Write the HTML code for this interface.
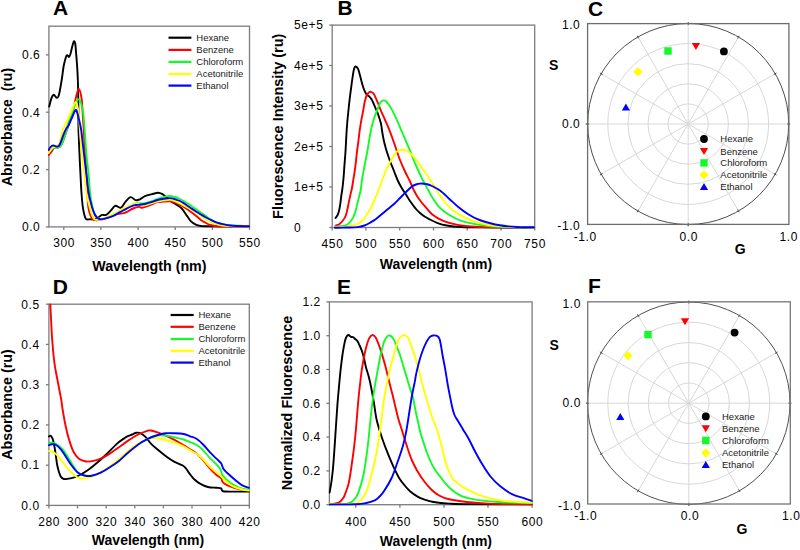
<!DOCTYPE html>
<html><head><meta charset="utf-8"><title>Figure</title>
<style>
html,body{margin:0;padding:0;background:#fff;}
body{width:800px;height:550px;overflow:hidden;}
svg{display:block;font-family:"Liberation Sans", sans-serif;}
</style></head>
<body>
<svg width="800" height="550" viewBox="0 0 800 550">
<defs>
<clipPath id="cA"><rect x="48" y="25" width="202" height="203"/></clipPath>
<clipPath id="cD"><rect x="48" y="303" width="202" height="203"/></clipPath>
<clipPath id="cE"><rect x="328.5" y="301" width="204" height="204.5"/></clipPath>
</defs>
<rect x="48.9" y="26.2" width="200.6" height="200.7" fill="none" stroke="#7c7c7c" stroke-width="1.30"/>
<line x1="63.8" y1="226.9" x2="63.8" y2="229.9" stroke="#7c7c7c" stroke-width="1.30"/>
<text x="64.06" y="247.20" font-size="12.00" text-anchor="middle" letter-spacing="0.60" fill="#000">300</text>
<line x1="100.9" y1="226.9" x2="100.9" y2="229.9" stroke="#7c7c7c" stroke-width="1.30"/>
<text x="101.21" y="247.20" font-size="12.00" text-anchor="middle" letter-spacing="0.60" fill="#000">350</text>
<line x1="138.1" y1="226.9" x2="138.1" y2="229.9" stroke="#7c7c7c" stroke-width="1.30"/>
<text x="138.36" y="247.20" font-size="12.00" text-anchor="middle" letter-spacing="0.60" fill="#000">400</text>
<line x1="175.2" y1="226.9" x2="175.2" y2="229.9" stroke="#7c7c7c" stroke-width="1.30"/>
<text x="175.50" y="247.20" font-size="12.00" text-anchor="middle" letter-spacing="0.60" fill="#000">450</text>
<line x1="212.4" y1="226.9" x2="212.4" y2="229.9" stroke="#7c7c7c" stroke-width="1.30"/>
<text x="212.65" y="247.20" font-size="12.00" text-anchor="middle" letter-spacing="0.60" fill="#000">500</text>
<line x1="249.5" y1="226.9" x2="249.5" y2="229.9" stroke="#7c7c7c" stroke-width="1.30"/>
<text x="249.80" y="247.20" font-size="12.00" text-anchor="middle" letter-spacing="0.60" fill="#000">550</text>
<line x1="45.9" y1="226.9" x2="48.9" y2="226.9" stroke="#7c7c7c" stroke-width="1.30"/>
<text x="40.40" y="231.20" font-size="12.00" text-anchor="end" letter-spacing="0.60" fill="#000">0.0</text>
<line x1="45.9" y1="169.6" x2="48.9" y2="169.6" stroke="#7c7c7c" stroke-width="1.30"/>
<text x="40.40" y="173.86" font-size="12.00" text-anchor="end" letter-spacing="0.60" fill="#000">0.2</text>
<line x1="45.9" y1="112.2" x2="48.9" y2="112.2" stroke="#7c7c7c" stroke-width="1.30"/>
<text x="40.40" y="116.51" font-size="12.00" text-anchor="end" letter-spacing="0.60" fill="#000">0.4</text>
<line x1="45.9" y1="54.9" x2="48.9" y2="54.9" stroke="#7c7c7c" stroke-width="1.30"/>
<text x="40.40" y="59.17" font-size="12.00" text-anchor="end" letter-spacing="0.60" fill="#000">0.6</text>
<text x="53.00" y="15.40" font-size="21.00" text-anchor="start" font-weight="bold" fill="#000">A</text>
<text x="149.40" y="271.00" font-size="14.25" text-anchor="middle" font-weight="bold" fill="#000">Wavelength (nm)</text>
<text x="11.90" y="127.00" font-size="14.10" text-anchor="middle" font-weight="bold" transform="rotate(-90 11.9 127.0)" fill="#000">Abrsorbance&#160;&#160;(ru)</text>
<g clip-path="url(#cA)">
<path d="M49.2 106.5 C49.6 105.0 50.8 99.8 51.6 97.8 C52.4 95.8 52.9 94.7 53.8 94.7 C54.6 94.7 55.9 97.7 56.7 97.8 C57.6 97.9 58.1 98.0 58.9 95.1 C59.7 92.2 60.8 85.3 61.6 80.5 C62.4 75.7 63.0 69.9 63.6 66.5 C64.2 63.1 64.6 61.8 65.1 60.0 C65.6 58.2 66.1 56.5 66.5 55.8 C66.9 55.0 67.3 55.3 67.7 55.5 C68.1 55.7 68.7 57.2 69.1 57.0 C69.5 56.8 69.9 55.6 70.3 54.5 C70.7 53.4 70.9 52.1 71.3 50.5 C71.7 48.9 72.2 46.3 72.7 44.7 C73.2 43.1 73.6 41.2 74.0 41.1 C74.4 41.0 75.0 42.2 75.3 44.0 C75.6 45.8 75.8 49.2 76.0 52.0 C76.2 54.8 76.5 57.1 76.7 60.5 C77.0 63.9 77.3 68.3 77.5 72.4 C77.7 76.5 77.9 80.4 78.0 85.0 C78.1 89.6 78.2 95.0 78.3 100.0 C78.4 105.0 78.4 110.0 78.4 115.0 C78.4 120.0 78.3 124.2 78.5 130.0 C78.7 135.8 79.0 142.5 79.3 150.0 C79.6 157.5 80.1 167.8 80.5 175.0 C80.9 182.2 81.1 187.9 81.5 193.2 C81.9 198.5 82.3 203.2 82.8 206.8 C83.3 210.4 83.8 212.4 84.3 214.5 C84.8 216.6 85.0 218.3 86.0 219.1 C87.0 219.9 88.8 219.3 90.5 219.3 C92.2 219.3 94.9 219.5 96.4 219.0 C97.9 218.5 98.6 217.2 99.6 216.5 C100.5 215.8 101.0 215.2 102.1 214.9 C103.2 214.6 104.8 215.5 106.2 214.9 C107.6 214.3 108.8 212.7 110.3 211.2 C111.8 209.7 113.7 206.5 115.2 205.9 C116.7 205.3 118.2 207.3 119.3 207.5 C120.4 207.7 120.6 208.1 121.7 207.1 C122.8 206.1 124.3 203.1 125.8 201.4 C127.3 199.7 129.1 197.3 130.7 197.1 C132.3 196.9 134.0 199.7 135.6 200.1 C137.2 200.5 138.4 199.9 140.0 199.3 C141.6 198.7 143.0 197.1 145.0 196.2 C147.0 195.4 149.8 194.8 152.0 194.2 C154.2 193.6 156.3 192.8 158.1 192.8 C159.8 192.8 161.2 193.5 162.5 194.2 C163.8 194.9 164.5 195.9 166.0 197.1 C167.5 198.3 169.5 200.2 171.2 201.5 C173.0 202.8 174.8 203.5 176.5 204.7 C178.2 205.8 180.2 206.8 181.8 208.5 C183.3 210.2 184.6 212.6 186.1 214.6 C187.6 216.6 188.9 219.1 190.5 220.8 C192.1 222.4 194.0 223.7 195.8 224.6 C197.5 225.5 199.0 225.7 201.0 226.0 C203.0 226.3 200.0 226.2 208.0 226.3 C216.0 226.4 242.2 226.3 249.0 226.3" fill="none" stroke="#000000" stroke-width="1.90" stroke-linejoin="round" stroke-linecap="round"/>
<path d="M48.7 155.1 C49.2 154.6 50.7 152.9 51.5 151.8 C52.3 150.7 52.9 149.0 53.6 148.3 C54.4 147.6 55.3 147.6 56.0 147.5 C56.7 147.4 57.2 147.8 58.0 147.5 C58.8 147.2 59.8 147.1 60.7 145.8 C61.6 144.5 62.6 142.2 63.5 139.8 C64.4 137.4 65.3 134.2 66.2 131.6 C67.1 129.0 68.1 126.9 69.1 124.0 C70.1 121.1 71.1 117.3 72.0 114.0 C72.9 110.7 73.8 107.2 74.5 104.0 C75.2 100.8 75.8 97.5 76.5 95.0 C77.2 92.5 78.1 88.3 79.0 89.1 C79.9 89.8 81.1 95.6 81.7 99.5 C82.3 103.4 82.3 107.9 82.6 112.3 C82.9 116.7 83.2 121.0 83.5 125.9 C83.8 130.8 84.1 136.0 84.5 142.0 C84.9 148.0 85.4 154.8 85.8 162.0 C86.2 169.2 86.6 177.5 87.0 185.0 C87.4 192.5 87.7 201.7 88.3 206.8 C88.9 211.9 89.7 213.4 90.5 215.5 C91.3 217.6 92.1 218.7 93.0 219.5 C93.9 220.3 95.0 220.1 96.0 220.2 C97.0 220.2 97.6 220.0 99.0 219.8 C100.4 219.6 102.2 219.5 104.5 218.8 C106.8 218.1 110.5 216.6 112.7 215.8 C115.0 215.0 116.2 214.2 118.0 213.8 C119.8 213.4 122.2 213.5 123.8 213.1 C125.3 212.7 126.0 212.4 127.5 211.6 C129.0 210.8 131.1 209.3 133.0 208.5 C134.9 207.7 137.3 207.0 138.8 206.9 C140.2 206.8 140.9 207.8 141.9 207.8 C142.9 207.8 143.4 207.5 145.0 206.9 C146.6 206.3 149.2 205.3 151.2 204.5 C153.3 203.7 155.4 202.7 157.5 202.2 C159.6 201.7 161.7 201.8 163.8 201.6 C165.8 201.4 168.1 201.1 170.0 201.3 C171.9 201.5 173.3 202.1 175.0 202.7 C176.7 203.3 178.3 204.2 180.0 205.0 C181.7 205.8 183.3 206.8 185.0 207.8 C186.7 208.8 188.3 210.0 190.0 211.2 C191.7 212.4 193.7 213.9 195.0 215.0 C196.3 216.1 196.8 216.5 198.0 217.5 C199.2 218.5 200.7 219.9 202.0 220.8 C203.3 221.7 204.7 222.3 206.0 223.0 C207.3 223.7 208.3 224.3 210.0 224.8 C211.7 225.3 213.5 225.9 216.0 226.2 C218.5 226.5 219.4 226.5 225.0 226.6 C230.6 226.7 245.4 226.6 249.5 226.6" fill="none" stroke="#ff0000" stroke-width="1.90" stroke-linejoin="round" stroke-linecap="round"/>
<path d="M48.7 151.8 C49.1 151.5 50.1 150.7 51.0 150.0 C51.9 149.3 53.0 147.9 54.2 147.5 C55.4 147.1 56.9 147.8 58.0 147.5 C59.1 147.2 59.8 147.1 60.7 145.8 C61.6 144.5 62.6 142.2 63.5 139.8 C64.4 137.4 65.5 134.2 66.2 131.6 C67.0 129.0 67.3 126.4 68.0 124.0 C68.7 121.6 69.7 119.3 70.5 117.0 C71.3 114.7 72.2 112.2 73.0 110.0 C73.8 107.8 74.8 105.2 75.5 103.6 C76.2 102.0 76.5 101.2 77.0 100.5 C77.5 99.8 77.9 99.1 78.5 99.3 C79.1 99.5 79.7 99.3 80.5 101.5 C81.3 103.7 82.4 107.5 83.1 112.3 C83.8 117.0 84.1 122.9 84.7 130.0 C85.3 137.1 85.8 147.5 86.5 155.0 C87.2 162.5 88.1 168.6 88.7 175.0 C89.3 181.4 89.5 188.2 90.1 193.2 C90.6 198.2 91.3 201.8 92.0 205.0 C92.7 208.2 93.2 210.5 94.0 212.5 C94.8 214.5 95.5 215.9 96.5 217.0 C97.5 218.1 98.7 218.6 100.0 218.8 C101.3 219.0 102.4 218.9 104.5 218.3 C106.6 217.7 110.1 216.4 112.7 215.3 C115.3 214.2 117.7 212.7 120.0 211.5 C122.3 210.3 124.2 209.2 126.2 208.0 C128.3 206.8 130.9 205.3 132.5 204.5 C134.1 203.7 134.2 203.6 135.6 203.4 C136.9 203.2 139.0 203.4 140.6 203.4 C142.2 203.4 143.2 203.6 145.0 203.3 C146.8 203.0 149.2 202.3 151.2 201.5 C153.3 200.7 155.4 199.5 157.5 198.8 C159.6 198.0 161.7 197.4 163.8 196.9 C165.8 196.4 168.1 196.0 170.0 196.0 C171.9 196.0 173.3 196.5 175.0 197.0 C176.7 197.5 178.3 198.2 180.0 199.0 C181.7 199.8 183.3 200.8 185.0 201.8 C186.7 202.8 188.3 203.9 190.0 205.0 C191.7 206.1 193.3 207.3 195.0 208.5 C196.7 209.7 198.3 210.9 200.0 212.0 C201.7 213.1 203.3 214.1 205.0 215.3 C206.7 216.5 208.3 217.9 210.0 219.0 C211.7 220.1 213.3 221.1 215.0 221.8 C216.7 222.6 217.5 222.9 220.0 223.5 C222.5 224.1 225.1 224.8 230.0 225.3 C234.9 225.8 246.2 226.1 249.5 226.3" fill="none" stroke="#14fa28" stroke-width="1.90" stroke-linejoin="round" stroke-linecap="round"/>
<path d="M48.7 152.9 C49.0 152.4 49.9 150.9 50.5 150.0 C51.1 149.1 51.8 148.1 52.5 147.5 C53.2 146.9 54.2 146.8 55.0 146.5 C55.8 146.2 56.7 146.2 57.5 145.5 C58.3 144.8 59.0 143.9 59.6 142.5 C60.2 141.1 60.5 138.9 61.0 137.0 C61.5 135.1 62.0 132.5 62.4 131.0 C62.8 129.5 62.9 129.7 63.6 128.2 C64.3 126.7 65.6 124.0 66.5 122.0 C67.4 120.0 68.3 118.2 69.1 116.4 C69.9 114.6 70.8 112.8 71.5 111.0 C72.2 109.2 72.9 107.0 73.6 105.5 C74.3 104.0 75.1 101.9 75.7 101.8 C76.3 101.7 76.7 103.2 77.2 105.0 C77.7 106.8 78.0 108.1 78.5 112.3 C79.0 116.5 79.3 122.9 79.9 130.0 C80.5 137.1 81.2 147.5 82.0 155.0 C82.8 162.5 83.8 168.6 84.6 175.0 C85.3 181.4 85.7 187.9 86.5 193.2 C87.3 198.5 88.8 203.4 89.6 206.8 C90.4 210.2 90.7 211.5 91.5 213.6 C92.3 215.7 93.3 218.2 94.2 219.2 C95.1 220.2 96.0 219.8 97.0 219.8 C98.0 219.8 98.8 219.6 100.0 219.3 C101.2 219.0 102.4 218.8 104.5 218.0 C106.6 217.2 110.1 215.5 112.7 214.3 C115.3 213.1 117.7 211.8 120.0 210.6 C122.3 209.4 124.2 208.2 126.2 207.2 C128.3 206.2 130.8 205.3 132.5 204.7 C134.2 204.1 135.1 203.6 136.2 203.6 C137.4 203.6 138.5 204.3 139.5 204.6 C140.5 204.9 141.4 205.5 142.5 205.6 C143.6 205.7 144.5 205.4 146.0 205.0 C147.5 204.6 149.3 204.0 151.2 203.4 C153.2 202.8 155.4 202.1 157.5 201.6 C159.6 201.1 161.7 200.6 163.8 200.3 C165.8 200.0 168.1 199.6 170.0 199.7 C171.9 199.8 173.3 200.4 175.0 201.0 C176.7 201.6 178.3 202.6 180.0 203.5 C181.7 204.4 183.3 205.3 185.0 206.2 C186.7 207.1 188.3 208.0 190.0 209.0 C191.7 210.0 193.3 211.0 195.0 212.0 C196.7 213.0 198.2 213.8 200.0 215.0 C201.8 216.2 204.0 218.2 206.0 219.5 C208.0 220.8 209.7 221.6 212.0 222.5 C214.3 223.4 217.0 224.4 220.0 225.0 C223.0 225.6 225.1 225.8 230.0 226.0 C234.9 226.2 246.2 226.3 249.5 226.4" fill="none" stroke="#ffff00" stroke-width="1.90" stroke-linejoin="round" stroke-linecap="round"/>
<path d="M48.7 149.9 C49.0 149.4 50.0 147.5 50.7 146.8 C51.4 146.1 52.3 145.6 53.1 145.5 C53.9 145.4 54.8 146.0 55.5 146.2 C56.2 146.4 56.8 146.8 57.5 146.6 C58.2 146.3 58.9 145.9 59.6 144.7 C60.3 143.5 61.1 141.2 61.8 139.3 C62.5 137.4 63.3 135.1 64.0 133.3 C64.7 131.5 65.5 129.9 66.2 128.6 C67.0 127.3 67.8 126.8 68.5 125.5 C69.2 124.2 69.8 122.5 70.5 121.0 C71.2 119.5 71.8 118.0 72.5 116.5 C73.2 115.0 73.9 112.8 74.5 111.8 C75.1 110.8 75.5 109.0 76.3 110.3 C77.0 111.6 78.2 116.1 79.0 119.5 C79.8 122.9 80.5 125.4 81.3 130.5 C82.0 135.6 82.6 142.6 83.5 150.0 C84.4 157.4 85.6 167.8 86.5 175.0 C87.4 182.2 87.8 187.9 88.7 193.2 C89.6 198.5 90.9 203.3 91.9 206.8 C92.9 210.3 93.7 212.2 94.5 214.0 C95.3 215.8 96.2 216.7 97.0 217.5 C97.8 218.3 98.3 218.9 99.6 219.1 C100.8 219.3 102.3 219.1 104.5 218.6 C106.7 218.1 110.1 217.2 112.7 216.1 C115.3 215.0 117.7 213.4 120.0 212.2 C122.3 211.0 124.2 209.8 126.2 208.8 C128.3 207.7 130.8 206.5 132.5 205.9 C134.2 205.3 135.0 205.2 136.2 205.0 C137.5 204.8 138.5 204.9 140.0 204.7 C141.5 204.5 143.1 204.4 145.0 204.0 C146.9 203.6 149.2 202.9 151.2 202.2 C153.3 201.5 155.4 200.6 157.5 200.0 C159.6 199.4 162.0 199.1 163.8 198.8 C165.5 198.4 166.6 198.3 168.0 198.2 C169.4 198.1 170.7 198.2 172.0 198.4 C173.3 198.6 174.7 199.2 176.0 199.6 C177.3 200.0 178.5 200.3 180.0 201.0 C181.5 201.7 183.3 202.9 185.0 204.0 C186.7 205.1 188.3 206.4 190.0 207.5 C191.7 208.6 193.3 209.7 195.0 210.8 C196.7 211.9 198.3 213.0 200.0 214.0 C201.7 215.0 203.3 216.1 205.0 217.0 C206.7 217.9 208.3 218.7 210.0 219.5 C211.7 220.3 213.3 221.1 215.0 221.8 C216.7 222.5 217.5 222.9 220.0 223.5 C222.5 224.1 225.1 225.0 230.0 225.5 C234.9 226.0 246.2 226.2 249.5 226.3" fill="none" stroke="#0000ff" stroke-width="1.90" stroke-linejoin="round" stroke-linecap="round"/>
</g>
<line x1="168.5" y1="37.7" x2="191.4" y2="37.7" stroke="#000000" stroke-width="2.20"/>
<text x="196.30" y="41.10" font-size="9.50" text-anchor="start" fill="#1a1a1a">Hexane</text>
<line x1="168.5" y1="49.9" x2="191.4" y2="49.9" stroke="#ff0000" stroke-width="2.20"/>
<text x="196.30" y="53.30" font-size="9.50" text-anchor="start" fill="#1a1a1a">Benzene</text>
<line x1="168.5" y1="61.9" x2="191.4" y2="61.9" stroke="#14fa28" stroke-width="2.20"/>
<text x="196.30" y="65.30" font-size="9.50" text-anchor="start" fill="#1a1a1a">Chloroform</text>
<line x1="168.5" y1="74.0" x2="191.4" y2="74.0" stroke="#ffff00" stroke-width="2.20"/>
<text x="196.30" y="77.40" font-size="9.50" text-anchor="start" fill="#1a1a1a">Acetonitrile</text>
<line x1="168.5" y1="85.6" x2="191.4" y2="85.6" stroke="#0000ff" stroke-width="2.20"/>
<text x="196.30" y="89.00" font-size="9.50" text-anchor="start" fill="#1a1a1a">Ethanol</text>
<rect x="332.2" y="25.1" width="202.5" height="202.4" fill="none" stroke="#7c7c7c" stroke-width="1.30"/>
<line x1="332.2" y1="227.5" x2="332.2" y2="230.5" stroke="#7c7c7c" stroke-width="1.30"/>
<text x="332.50" y="247.70" font-size="12.00" text-anchor="middle" letter-spacing="0.60" fill="#000">450</text>
<line x1="365.9" y1="227.5" x2="365.9" y2="230.5" stroke="#7c7c7c" stroke-width="1.30"/>
<text x="366.25" y="247.70" font-size="12.00" text-anchor="middle" letter-spacing="0.60" fill="#000">500</text>
<line x1="399.7" y1="227.5" x2="399.7" y2="230.5" stroke="#7c7c7c" stroke-width="1.30"/>
<text x="400.00" y="247.70" font-size="12.00" text-anchor="middle" letter-spacing="0.60" fill="#000">550</text>
<line x1="433.5" y1="227.5" x2="433.5" y2="230.5" stroke="#7c7c7c" stroke-width="1.30"/>
<text x="433.75" y="247.70" font-size="12.00" text-anchor="middle" letter-spacing="0.60" fill="#000">600</text>
<line x1="467.2" y1="227.5" x2="467.2" y2="230.5" stroke="#7c7c7c" stroke-width="1.30"/>
<text x="467.50" y="247.70" font-size="12.00" text-anchor="middle" letter-spacing="0.60" fill="#000">650</text>
<line x1="501.0" y1="227.5" x2="501.0" y2="230.5" stroke="#7c7c7c" stroke-width="1.30"/>
<text x="501.25" y="247.70" font-size="12.00" text-anchor="middle" letter-spacing="0.60" fill="#000">700</text>
<line x1="534.7" y1="227.5" x2="534.7" y2="230.5" stroke="#7c7c7c" stroke-width="1.30"/>
<text x="535.00" y="247.70" font-size="12.00" text-anchor="middle" letter-spacing="0.60" fill="#000">750</text>
<line x1="329.2" y1="227.5" x2="332.2" y2="227.5" stroke="#7c7c7c" stroke-width="1.30"/>
<text x="294.00" y="231.80" font-size="12.00" text-anchor="start" letter-spacing="0.60" fill="#000">0</text>
<line x1="329.2" y1="187.0" x2="332.2" y2="187.0" stroke="#7c7c7c" stroke-width="1.30"/>
<text x="294.00" y="191.31" font-size="12.00" text-anchor="start" letter-spacing="0.60" fill="#000">1e+5</text>
<line x1="329.2" y1="146.5" x2="332.2" y2="146.5" stroke="#7c7c7c" stroke-width="1.30"/>
<text x="294.00" y="150.82" font-size="12.00" text-anchor="start" letter-spacing="0.60" fill="#000">2e+5</text>
<line x1="329.2" y1="106.0" x2="332.2" y2="106.0" stroke="#7c7c7c" stroke-width="1.30"/>
<text x="294.00" y="110.33" font-size="12.00" text-anchor="start" letter-spacing="0.60" fill="#000">3e+5</text>
<line x1="329.2" y1="65.5" x2="332.2" y2="65.5" stroke="#7c7c7c" stroke-width="1.30"/>
<text x="294.00" y="69.84" font-size="12.00" text-anchor="start" letter-spacing="0.60" fill="#000">4e+5</text>
<line x1="329.2" y1="25.1" x2="332.2" y2="25.1" stroke="#7c7c7c" stroke-width="1.30"/>
<text x="294.00" y="29.35" font-size="12.00" text-anchor="start" letter-spacing="0.60" fill="#000">5e+5</text>
<text x="337.60" y="15.40" font-size="21.00" text-anchor="start" font-weight="bold" fill="#000">B</text>
<text x="436.00" y="268.80" font-size="14.00" text-anchor="middle" font-weight="bold" fill="#000">Wavelength (nm)</text>
<text x="283.30" y="126.15" font-size="14.50" text-anchor="middle" font-weight="bold" transform="rotate(-90 283.3 126.2)" fill="#000">Fluorescence Intensity (ru)</text>
<path d="M335.6 218.0 C336.0 217.4 337.2 216.1 337.8 214.7 C338.4 213.3 338.9 211.5 339.3 209.6 C339.7 207.7 340.1 205.1 340.4 203.1 C340.7 201.1 340.8 199.5 341.1 197.3 C341.4 195.1 341.8 192.8 342.2 190.0 C342.6 187.2 343.0 183.5 343.3 180.5 C343.6 177.5 343.8 175.1 344.0 171.8 C344.2 168.5 344.5 164.5 344.8 160.9 C345.1 157.3 345.3 154.7 345.6 150.0 C345.9 145.3 346.2 137.8 346.5 133.0 C346.8 128.2 347.1 124.8 347.4 121.0 C347.7 117.2 348.1 114.1 348.5 110.0 C348.9 105.9 349.4 101.0 350.0 96.4 C350.6 91.9 351.2 87.0 351.8 82.7 C352.4 78.5 353.1 73.6 353.6 70.9 C354.1 68.2 354.5 67.5 355.0 66.8 C355.5 66.1 355.9 66.4 356.4 66.8 C356.9 67.2 357.7 68.0 358.2 69.1 C358.7 70.2 359.0 71.6 359.5 73.6 C360.0 75.6 360.8 78.6 361.4 80.9 C362.0 83.2 362.5 85.3 363.2 87.3 C363.9 89.3 364.8 91.4 365.5 92.7 C366.2 94.0 366.7 94.4 367.3 95.0 C367.9 95.6 368.4 95.7 369.1 96.4 C369.8 97.1 370.6 97.9 371.4 99.1 C372.1 100.3 372.9 102.1 373.6 103.6 C374.3 105.1 374.8 106.6 375.5 108.2 C376.2 109.8 376.7 110.5 377.6 113.0 C378.5 115.5 380.1 120.1 380.8 123.1 C381.6 126.1 381.7 128.4 382.1 131.0 C382.5 133.6 382.8 135.5 383.4 138.5 C384.0 141.5 384.9 145.2 386.0 149.0 C387.1 152.8 388.7 157.3 390.0 161.0 C391.3 164.7 392.7 167.7 394.0 171.0 C395.3 174.3 396.7 178.1 398.0 181.0 C399.3 183.9 400.7 186.2 402.0 188.5 C403.3 190.8 404.7 192.4 406.0 194.5 C407.3 196.6 408.3 198.6 410.0 201.0 C411.7 203.4 414.3 207.0 416.0 209.0 C417.7 211.0 418.5 211.7 420.0 213.0 C421.5 214.3 423.3 215.7 425.0 216.8 C426.7 217.9 428.0 218.5 430.0 219.5 C432.0 220.5 434.2 221.8 437.0 222.8 C439.8 223.8 442.7 224.8 446.8 225.5 C450.9 226.2 455.9 226.7 461.4 227.0 C466.9 227.3 467.9 227.3 480.0 227.4 C492.1 227.5 525.0 227.5 534.0 227.5" fill="none" stroke="#000000" stroke-width="1.90" stroke-linejoin="round" stroke-linecap="round"/>
<path d="M335.6 225.6 C336.2 225.4 338.1 225.0 339.3 224.2 C340.5 223.3 341.8 221.9 342.9 220.5 C344.0 219.1 345.0 217.6 345.8 215.5 C346.6 213.4 347.1 210.6 347.6 208.2 C348.2 205.8 348.6 203.2 349.1 200.9 C349.6 198.6 350.0 196.6 350.5 194.4 C351.0 192.2 351.6 190.3 352.0 188.0 C352.4 185.7 352.8 183.2 353.2 180.5 C353.6 177.8 354.1 175.1 354.6 171.8 C355.1 168.5 355.6 164.5 356.0 160.9 C356.4 157.3 356.8 153.0 357.2 150.0 C357.6 147.0 357.8 145.7 358.2 142.7 C358.6 139.7 359.0 135.4 359.5 131.8 C360.0 128.2 360.6 124.5 361.2 120.9 C361.8 117.3 362.7 113.2 363.3 110.0 C363.9 106.8 364.2 104.0 364.8 101.5 C365.4 99.0 366.1 96.5 366.8 95.0 C367.5 93.5 368.4 92.8 369.1 92.3 C369.8 91.8 370.2 91.6 370.9 91.8 C371.6 92.0 372.4 92.3 373.2 93.2 C374.0 94.1 374.7 95.6 375.5 97.3 C376.3 99.0 377.3 101.4 378.2 103.6 C379.1 105.8 379.6 107.5 380.8 110.3 C382.0 113.1 383.9 117.3 385.3 120.5 C386.7 123.7 387.9 126.4 389.1 129.4 C390.3 132.4 391.4 135.3 392.5 138.5 C393.6 141.7 394.8 144.9 396.0 148.5 C397.2 152.1 398.5 156.2 400.0 160.0 C401.5 163.8 403.3 167.9 405.0 171.5 C406.7 175.1 408.7 178.7 410.0 181.5 C411.3 184.3 411.8 186.1 413.0 188.5 C414.2 190.9 415.7 193.8 417.0 196.0 C418.3 198.2 419.6 199.8 420.9 201.5 C422.2 203.2 423.1 204.2 425.0 206.4 C426.9 208.6 429.3 212.1 432.3 214.5 C435.3 216.9 439.0 219.2 443.2 220.9 C447.4 222.6 452.2 223.9 457.7 224.9 C463.1 225.9 468.8 226.3 475.9 226.7 C482.9 227.1 490.3 227.2 500.0 227.3 C509.7 227.4 528.3 227.5 534.0 227.5" fill="none" stroke="#ff0000" stroke-width="1.90" stroke-linejoin="round" stroke-linecap="round"/>
<path d="M335.5 226.6 C336.1 226.6 337.7 226.6 339.3 226.4 C340.9 226.2 343.4 226.2 345.1 225.6 C346.8 225.0 348.2 224.0 349.5 222.7 C350.8 221.4 352.1 219.4 353.1 217.6 C354.1 215.8 354.6 214.0 355.3 211.8 C356.0 209.6 356.5 206.9 357.1 204.5 C357.7 202.1 358.3 199.7 358.9 197.3 C359.5 194.9 360.2 192.8 360.7 190.0 C361.2 187.2 361.4 183.5 361.9 180.5 C362.3 177.5 362.8 175.1 363.4 171.8 C364.0 168.5 364.8 164.5 365.5 160.9 C366.2 157.3 366.9 153.9 367.6 150.0 C368.3 146.1 368.9 141.4 369.6 137.5 C370.3 133.6 371.0 129.8 371.8 126.5 C372.6 123.2 373.3 120.8 374.2 118.0 C375.1 115.2 376.4 112.0 377.4 109.5 C378.4 107.0 379.2 104.4 380.1 102.9 C381.0 101.4 381.8 100.9 382.7 100.6 C383.6 100.3 384.6 100.4 385.5 100.9 C386.4 101.4 387.0 102.2 388.0 103.6 C389.0 105.0 390.4 106.9 391.6 109.1 C392.8 111.3 394.1 114.0 395.4 116.7 C396.7 119.5 398.0 122.6 399.3 125.6 C400.6 128.6 401.8 131.5 403.1 134.5 C404.4 137.5 405.6 140.4 406.9 143.4 C408.2 146.4 409.5 149.4 410.7 152.3 C411.9 155.2 412.8 158.1 414.0 161.0 C415.2 163.9 416.7 167.1 418.0 170.0 C419.3 172.9 420.7 175.8 422.0 178.5 C423.3 181.2 424.8 183.8 426.0 186.0 C427.2 188.2 427.9 189.6 429.0 191.5 C430.1 193.4 430.6 194.9 432.3 197.5 C434.1 200.1 436.8 204.5 439.5 207.3 C442.2 210.1 445.0 212.2 448.6 214.5 C452.2 216.8 456.2 219.2 461.4 220.9 C466.5 222.6 473.4 223.9 479.5 224.9 C485.6 225.9 488.6 226.3 497.7 226.7 C506.8 227.1 528.0 227.4 534.0 227.5" fill="none" stroke="#14fa28" stroke-width="1.90" stroke-linejoin="round" stroke-linecap="round"/>
<path d="M335.5 227.3 C337.1 227.2 342.6 227.2 345.0 227.0 C347.4 226.8 348.1 226.3 350.2 225.8 C352.3 225.3 355.4 225.1 357.5 224.2 C359.6 223.3 361.1 221.9 362.5 220.5 C363.9 219.1 364.9 217.3 366.2 215.5 C367.4 213.7 368.7 211.9 370.0 209.5 C371.3 207.1 372.7 204.0 374.0 201.0 C375.3 198.0 376.5 195.3 378.0 191.5 C379.5 187.7 381.3 182.2 383.0 178.0 C384.7 173.8 386.3 169.5 388.0 166.0 C389.7 162.5 391.5 159.4 393.0 157.0 C394.5 154.6 395.5 152.7 397.0 151.5 C398.5 150.3 400.3 149.8 402.0 149.7 C403.7 149.6 405.3 150.1 407.0 151.0 C408.7 151.9 410.3 153.3 412.0 155.0 C413.7 156.7 415.3 158.8 417.0 161.0 C418.7 163.2 420.3 165.7 422.0 168.0 C423.7 170.3 425.3 172.5 427.0 175.0 C428.7 177.5 430.5 180.7 432.0 183.0 C433.5 185.3 434.7 186.9 436.0 189.0 C437.3 191.1 437.9 192.6 440.0 195.5 C442.1 198.4 445.7 203.4 448.6 206.4 C451.6 209.4 454.1 211.3 457.7 213.6 C461.3 215.9 465.9 218.2 470.5 220.0 C475.1 221.8 479.9 223.1 485.0 224.2 C490.1 225.3 493.2 225.9 501.4 226.4 C509.6 226.9 528.6 227.2 534.0 227.4" fill="none" stroke="#ffff00" stroke-width="1.90" stroke-linejoin="round" stroke-linecap="round"/>
<path d="M334.9 227.8 C336.8 227.8 342.7 227.6 346.5 227.5 C350.3 227.4 354.5 227.4 357.5 227.1 C360.5 226.8 362.4 226.2 364.5 225.5 C366.6 224.8 368.1 223.9 370.0 222.8 C371.9 221.7 374.0 220.5 376.0 219.0 C378.0 217.5 380.0 215.7 382.0 214.0 C384.0 212.3 386.0 210.7 388.0 209.0 C390.0 207.3 392.0 205.8 394.0 204.0 C396.0 202.2 398.0 200.0 400.0 198.0 C402.0 196.0 404.0 193.9 406.0 192.0 C408.0 190.1 410.3 187.8 412.0 186.5 C413.7 185.2 414.7 185.0 416.0 184.5 C417.3 184.0 418.3 183.7 420.0 183.6 C421.7 183.5 424.0 183.6 426.0 184.0 C428.0 184.4 429.7 184.9 432.0 186.0 C434.3 187.1 437.2 188.5 440.0 190.5 C442.8 192.5 445.7 195.5 448.6 198.2 C451.6 200.8 454.4 203.7 457.7 206.4 C461.0 209.1 465.0 212.2 468.6 214.5 C472.2 216.8 475.2 218.4 479.5 220.0 C483.8 221.6 489.2 223.1 494.1 224.2 C499.0 225.3 504.3 225.9 508.6 226.4 C512.9 226.9 515.8 226.9 520.0 227.1 C524.2 227.2 531.7 227.3 534.0 227.3" fill="none" stroke="#0000ff" stroke-width="1.90" stroke-linejoin="round" stroke-linecap="round"/>
<circle cx="688.2" cy="124.0" r="20.1" fill="none" stroke="#d8d8d8" stroke-width="1"/>
<circle cx="688.2" cy="124.0" r="40.2" fill="none" stroke="#d8d8d8" stroke-width="1"/>
<circle cx="688.2" cy="124.0" r="60.3" fill="none" stroke="#d8d8d8" stroke-width="1"/>
<circle cx="688.2" cy="124.0" r="80.4" fill="none" stroke="#d8d8d8" stroke-width="1"/>
<line x1="688.2" y1="124.0" x2="788.7" y2="124.0" stroke="#d8d8d8" stroke-width="1"/>
<line x1="688.2" y1="124.0" x2="775.2" y2="73.8" stroke="#d8d8d8" stroke-width="1"/>
<line x1="688.2" y1="124.0" x2="738.5" y2="37.0" stroke="#d8d8d8" stroke-width="1"/>
<line x1="688.2" y1="124.0" x2="688.2" y2="23.5" stroke="#d8d8d8" stroke-width="1"/>
<line x1="688.2" y1="124.0" x2="638.0" y2="37.0" stroke="#d8d8d8" stroke-width="1"/>
<line x1="688.2" y1="124.0" x2="601.2" y2="73.8" stroke="#d8d8d8" stroke-width="1"/>
<line x1="688.2" y1="124.0" x2="587.7" y2="124.0" stroke="#d8d8d8" stroke-width="1"/>
<line x1="688.2" y1="124.0" x2="601.2" y2="174.2" stroke="#d8d8d8" stroke-width="1"/>
<line x1="688.2" y1="124.0" x2="638.0" y2="211.0" stroke="#d8d8d8" stroke-width="1"/>
<line x1="688.2" y1="124.0" x2="688.2" y2="224.5" stroke="#d8d8d8" stroke-width="1"/>
<line x1="688.2" y1="124.0" x2="738.5" y2="211.0" stroke="#d8d8d8" stroke-width="1"/>
<line x1="688.2" y1="124.0" x2="775.2" y2="174.3" stroke="#d8d8d8" stroke-width="1"/>
<circle cx="688.2" cy="124.0" r="100.5" fill="none" stroke="#4c4c4c" stroke-width="1.0"/>
<line x1="787.2" y1="124.0" x2="790.2" y2="124.0" stroke="#4c4c4c" stroke-width="1"/>
<line x1="773.9" y1="74.5" x2="776.5" y2="73.0" stroke="#4c4c4c" stroke-width="1"/>
<line x1="737.7" y1="38.3" x2="739.2" y2="35.7" stroke="#4c4c4c" stroke-width="1"/>
<line x1="688.2" y1="25.0" x2="688.2" y2="22.0" stroke="#4c4c4c" stroke-width="1"/>
<line x1="638.7" y1="38.3" x2="637.2" y2="35.7" stroke="#4c4c4c" stroke-width="1"/>
<line x1="602.5" y1="74.5" x2="599.9" y2="73.0" stroke="#4c4c4c" stroke-width="1"/>
<line x1="589.2" y1="124.0" x2="586.2" y2="124.0" stroke="#4c4c4c" stroke-width="1"/>
<line x1="602.5" y1="173.5" x2="599.9" y2="175.0" stroke="#4c4c4c" stroke-width="1"/>
<line x1="638.7" y1="209.7" x2="637.2" y2="212.3" stroke="#4c4c4c" stroke-width="1"/>
<line x1="688.2" y1="223.0" x2="688.2" y2="226.0" stroke="#4c4c4c" stroke-width="1"/>
<line x1="737.7" y1="209.7" x2="739.2" y2="212.3" stroke="#4c4c4c" stroke-width="1"/>
<line x1="773.9" y1="173.5" x2="776.5" y2="175.0" stroke="#4c4c4c" stroke-width="1"/>
<rect x="587.6" y="23.6" width="201.3" height="200.8" fill="none" stroke="#6c6c6c" stroke-width="1.3"/>
<line x1="585.6" y1="124.0" x2="587.6" y2="124.0" stroke="#6c6c6c" stroke-width="1.00"/>
<line x1="688.2" y1="224.4" x2="688.2" y2="226.4" stroke="#6c6c6c" stroke-width="1.00"/>
<circle cx="723.9" cy="51.4" r="3.9" fill="#000"/>
<polygon points="691.8,43.0 700.0,43.0 695.9,50.0" fill="#ff0000"/>
<rect x="664.3" y="47.3" width="7.4" height="7.4" fill="#14fa28"/>
<polygon points="638.0,67.2 642.6,71.8 638.0,76.4 633.4,71.8" fill="#ffff00"/>
<polygon points="621.8,110.5 630.0,110.5 625.9,103.5" fill="#0000ff"/>
<circle cx="704.0" cy="139.0" r="3.9" fill="#000"/>
<text x="720.30" y="142.40" font-size="9.50" text-anchor="start" fill="#1a1a1a">Hexane</text>
<polygon points="699.9,148.1 708.1,148.1 704.0,155.1" fill="#ff0000"/>
<text x="720.30" y="155.00" font-size="9.50" text-anchor="start" fill="#1a1a1a">Benzene</text>
<rect x="700.3" y="159.2" width="7.4" height="7.4" fill="#14fa28"/>
<text x="720.30" y="166.30" font-size="9.50" text-anchor="start" fill="#1a1a1a">Chloroform</text>
<polygon points="704.0,170.2 708.6,174.8 704.0,179.4 699.4,174.8" fill="#ffff00"/>
<text x="720.30" y="178.20" font-size="9.50" text-anchor="start" fill="#1a1a1a">Acetonitrile</text>
<polygon points="699.9,189.9 708.1,189.9 704.0,182.9" fill="#0000ff"/>
<text x="720.30" y="189.80" font-size="9.50" text-anchor="start" fill="#1a1a1a">Ethanol</text>
<text x="588.00" y="15.60" font-size="21.00" text-anchor="start" font-weight="bold" fill="#000">C</text>
<text x="549.00" y="70.40" font-size="14.00" text-anchor="start" font-weight="bold" fill="#000">S</text>
<text x="734.75" y="253.75" font-size="14.00" text-anchor="start" font-weight="bold" fill="#000">G</text>
<text x="580.40" y="28.70" font-size="12.00" text-anchor="end" letter-spacing="0.60" fill="#000">1.0</text>
<text x="580.40" y="128.40" font-size="12.00" text-anchor="end" letter-spacing="0.60" fill="#000">0.0</text>
<text x="580.40" y="230.30" font-size="12.00" text-anchor="end" letter-spacing="0.60" fill="#000">-1.0</text>
<text x="585.30" y="240.60" font-size="12.00" text-anchor="middle" letter-spacing="0.60" fill="#000">-1.0</text>
<text x="688.70" y="240.60" font-size="12.00" text-anchor="middle" letter-spacing="0.60" fill="#000">0.0</text>
<text x="788.70" y="240.60" font-size="12.00" text-anchor="middle" letter-spacing="0.60" fill="#000">1.0</text>
<rect x="48.9" y="304.2" width="200.4" height="201.2" fill="none" stroke="#7c7c7c" stroke-width="1.30"/>
<line x1="48.9" y1="505.4" x2="48.9" y2="508.4" stroke="#7c7c7c" stroke-width="1.30"/>
<text x="49.20" y="526.40" font-size="12.00" text-anchor="middle" letter-spacing="0.60" fill="#000">280</text>
<line x1="77.5" y1="505.4" x2="77.5" y2="508.4" stroke="#7c7c7c" stroke-width="1.30"/>
<text x="77.83" y="526.40" font-size="12.00" text-anchor="middle" letter-spacing="0.60" fill="#000">300</text>
<line x1="106.2" y1="505.4" x2="106.2" y2="508.4" stroke="#7c7c7c" stroke-width="1.30"/>
<text x="106.46" y="526.40" font-size="12.00" text-anchor="middle" letter-spacing="0.60" fill="#000">320</text>
<line x1="134.8" y1="505.4" x2="134.8" y2="508.4" stroke="#7c7c7c" stroke-width="1.30"/>
<text x="135.09" y="526.40" font-size="12.00" text-anchor="middle" letter-spacing="0.60" fill="#000">340</text>
<line x1="163.4" y1="505.4" x2="163.4" y2="508.4" stroke="#7c7c7c" stroke-width="1.30"/>
<text x="163.71" y="526.40" font-size="12.00" text-anchor="middle" letter-spacing="0.60" fill="#000">360</text>
<line x1="192.0" y1="505.4" x2="192.0" y2="508.4" stroke="#7c7c7c" stroke-width="1.30"/>
<text x="192.34" y="526.40" font-size="12.00" text-anchor="middle" letter-spacing="0.60" fill="#000">380</text>
<line x1="220.7" y1="505.4" x2="220.7" y2="508.4" stroke="#7c7c7c" stroke-width="1.30"/>
<text x="220.97" y="526.40" font-size="12.00" text-anchor="middle" letter-spacing="0.60" fill="#000">400</text>
<line x1="249.3" y1="505.4" x2="249.3" y2="508.4" stroke="#7c7c7c" stroke-width="1.30"/>
<text x="249.60" y="526.40" font-size="12.00" text-anchor="middle" letter-spacing="0.60" fill="#000">420</text>
<line x1="45.9" y1="505.4" x2="48.9" y2="505.4" stroke="#7c7c7c" stroke-width="1.30"/>
<text x="39.80" y="509.70" font-size="12.00" text-anchor="end" letter-spacing="0.60" fill="#000">0.0</text>
<line x1="45.9" y1="465.2" x2="48.9" y2="465.2" stroke="#7c7c7c" stroke-width="1.30"/>
<text x="39.80" y="469.46" font-size="12.00" text-anchor="end" letter-spacing="0.60" fill="#000">0.1</text>
<line x1="45.9" y1="424.9" x2="48.9" y2="424.9" stroke="#7c7c7c" stroke-width="1.30"/>
<text x="39.80" y="429.22" font-size="12.00" text-anchor="end" letter-spacing="0.60" fill="#000">0.2</text>
<line x1="45.9" y1="384.7" x2="48.9" y2="384.7" stroke="#7c7c7c" stroke-width="1.30"/>
<text x="39.80" y="388.98" font-size="12.00" text-anchor="end" letter-spacing="0.60" fill="#000">0.3</text>
<line x1="45.9" y1="344.4" x2="48.9" y2="344.4" stroke="#7c7c7c" stroke-width="1.30"/>
<text x="39.80" y="348.74" font-size="12.00" text-anchor="end" letter-spacing="0.60" fill="#000">0.4</text>
<line x1="45.9" y1="304.2" x2="48.9" y2="304.2" stroke="#7c7c7c" stroke-width="1.30"/>
<text x="39.80" y="308.50" font-size="12.00" text-anchor="end" letter-spacing="0.60" fill="#000">0.5</text>
<text x="52.70" y="293.75" font-size="21.00" text-anchor="start" font-weight="bold" fill="#000">D</text>
<text x="148.00" y="545.30" font-size="14.00" text-anchor="middle" font-weight="bold" fill="#000">Wavelength (nm)</text>
<text x="12.00" y="404.50" font-size="14.30" text-anchor="middle" font-weight="bold" transform="rotate(-90 12.0 404.5)" fill="#000">Absorbance (ru)</text>
<g clip-path="url(#cD)">
<path d="M48.9 436.4 C49.2 436.3 50.0 435.7 50.5 435.8 C51.0 435.9 51.2 436.2 51.6 436.9 C52.0 437.6 52.5 438.4 53.0 440.0 C53.5 441.6 53.9 443.9 54.4 446.4 C54.9 448.9 55.3 452.0 55.8 455.0 C56.2 458.0 56.6 461.8 57.1 464.5 C57.6 467.2 58.2 469.5 58.8 471.5 C59.4 473.5 60.0 475.2 60.7 476.4 C61.4 477.6 62.2 478.2 63.0 478.6 C63.8 479.1 63.9 479.2 65.3 479.1 C66.7 479.0 69.3 478.8 71.6 478.2 C73.9 477.6 76.2 476.9 78.9 475.5 C81.6 474.1 85.0 472.1 88.0 470.0 C91.0 467.9 94.1 465.3 97.1 462.7 C100.1 460.1 102.9 457.7 106.2 454.5 C109.5 451.3 114.1 446.3 117.1 443.6 C120.1 440.9 122.7 439.4 124.4 438.2 C126.1 437.0 126.0 437.0 127.3 436.4 C128.6 435.8 130.5 435.1 132.0 434.5 C133.5 433.9 134.9 432.9 136.4 432.7 C137.9 432.5 139.4 432.6 140.9 433.3 C142.4 434.0 143.8 435.2 145.5 436.9 C147.2 438.6 148.8 441.4 150.9 443.6 C153.0 445.8 155.5 447.7 158.2 450.0 C160.9 452.3 164.6 455.3 167.3 457.3 C170.0 459.3 171.9 460.4 174.5 461.8 C177.1 463.2 180.8 464.4 182.7 465.5 C184.6 466.6 185.1 467.4 186.0 468.5 C186.9 469.6 187.4 470.6 188.2 471.8 C189.0 473.0 189.9 474.2 191.0 475.5 C192.1 476.8 193.0 478.1 194.5 479.5 C196.0 480.9 197.8 482.4 200.0 483.6 C202.2 484.9 205.3 486.3 208.0 487.0 C210.7 487.7 214.0 487.6 216.2 487.8 C218.4 488.0 220.0 487.8 221.1 488.3 C222.2 488.9 221.3 490.6 222.7 491.1 C224.0 491.7 224.8 491.5 229.2 491.6 C233.6 491.7 245.6 491.6 248.9 491.6" fill="none" stroke="#000000" stroke-width="1.90" stroke-linejoin="round" stroke-linecap="round"/>
<path d="M50.3 304.4 C50.4 307.0 50.8 314.6 51.1 320.0 C51.4 325.4 51.6 331.7 52.0 337.0 C52.4 342.3 52.8 347.5 53.2 352.0 C53.6 356.5 54.1 360.2 54.6 364.0 C55.1 367.8 55.8 371.2 56.5 375.0 C57.2 378.8 58.0 382.8 58.8 387.0 C59.6 391.2 60.6 396.2 61.3 400.0 C61.9 403.8 62.0 405.9 62.7 410.0 C63.4 414.1 64.3 419.6 65.3 424.5 C66.3 429.4 67.5 434.6 68.9 439.1 C70.3 443.7 71.8 448.5 73.5 451.8 C75.2 455.1 76.8 457.1 78.9 458.7 C81.0 460.3 83.8 461.1 86.2 461.5 C88.6 461.9 91.1 461.4 93.5 460.9 C95.9 460.4 98.0 459.9 100.7 458.7 C103.4 457.5 106.8 455.5 109.8 453.6 C112.8 451.7 115.8 449.5 118.9 447.3 C122.0 445.1 125.3 442.5 128.5 440.4 C131.7 438.3 135.1 436.1 138.2 434.5 C141.3 432.9 145.2 431.6 147.3 430.9 C149.4 430.2 149.1 430.2 150.9 430.5 C152.7 430.8 155.5 431.7 158.2 432.7 C160.9 433.7 164.3 435.0 167.3 436.4 C170.3 437.8 173.4 439.2 176.4 440.9 C179.4 442.6 183.2 445.0 185.5 446.4 C187.8 447.8 188.2 448.0 190.0 449.2 C191.8 450.4 194.3 451.7 196.5 453.5 C198.7 455.3 200.9 457.6 203.1 460.0 C205.3 462.4 207.4 465.7 209.6 468.2 C211.8 470.7 214.3 473.2 216.2 474.8 C218.1 476.4 220.0 476.8 221.1 478.0 C222.2 479.2 221.6 480.9 222.7 482.1 C223.8 483.3 225.7 484.4 227.6 485.4 C229.5 486.3 231.6 487.1 234.1 487.8 C236.6 488.5 239.8 489.1 242.3 489.5 C244.8 489.9 247.8 490.2 248.9 490.3" fill="none" stroke="#ff0000" stroke-width="1.90" stroke-linejoin="round" stroke-linecap="round"/>
<path d="M48.9 442.7 C50.0 442.9 53.0 442.5 55.3 443.6 C57.6 444.7 60.4 446.8 62.5 449.1 C64.6 451.4 66.2 454.4 68.0 457.3 C69.8 460.2 71.7 463.7 73.5 466.4 C75.3 469.1 76.8 472.0 78.9 473.6 C81.0 475.2 84.1 475.4 86.2 475.8 C88.3 476.2 89.2 476.4 91.6 475.8 C94.0 475.2 97.7 474.0 100.7 472.5 C103.7 471.0 106.8 469.0 109.8 467.0 C112.8 465.0 115.9 463.0 118.9 460.6 C121.9 458.2 124.8 455.1 128.0 452.4 C131.2 449.7 135.0 446.5 138.2 444.3 C141.4 442.1 144.3 440.5 147.3 439.0 C150.3 437.5 153.4 436.1 156.4 435.5 C159.4 434.9 162.5 435.2 165.5 435.5 C168.5 435.8 171.5 436.6 174.5 437.3 C177.5 438.0 181.0 438.7 183.6 439.5 C186.2 440.3 187.8 441.2 190.0 442.1 C192.2 443.0 194.3 443.5 196.5 444.8 C198.7 446.1 200.9 448.1 203.1 450.2 C205.3 452.3 207.4 455.3 209.6 457.6 C211.8 459.9 214.4 462.2 216.2 464.1 C218.0 466.0 219.1 467.1 220.2 469.0 C221.3 470.9 221.2 473.4 222.7 475.6 C224.2 477.8 227.0 480.3 229.2 482.1 C231.4 483.9 233.6 485.1 235.8 486.2 C238.0 487.3 240.1 488.1 242.3 488.7 C244.5 489.2 247.8 489.4 248.9 489.5" fill="none" stroke="#14fa28" stroke-width="1.90" stroke-linejoin="round" stroke-linecap="round"/>
<path d="M48.9 450.9 C50.0 451.3 53.0 451.8 55.3 453.6 C57.6 455.4 60.1 458.9 62.5 461.8 C64.9 464.7 67.4 468.3 69.8 470.9 C72.2 473.5 75.0 476.0 77.1 477.3 C79.2 478.6 80.4 478.7 82.5 478.7 C84.6 478.7 86.8 478.4 89.8 477.3 C92.8 476.2 97.4 474.1 100.7 472.3 C104.0 470.5 106.8 468.5 109.8 466.3 C112.8 464.1 115.9 461.9 118.9 459.3 C121.9 456.7 124.8 453.5 128.0 450.9 C131.2 448.3 135.0 445.6 138.2 443.6 C141.4 441.6 144.3 440.0 147.3 439.1 C150.3 438.2 153.4 438.1 156.4 438.2 C159.4 438.3 162.5 439.2 165.5 440.0 C168.5 440.8 171.5 441.6 174.5 442.7 C177.5 443.8 181.0 445.1 183.6 446.4 C186.2 447.6 187.8 449.0 190.0 450.2 C192.2 451.4 194.3 452.3 196.5 453.8 C198.7 455.3 200.9 457.1 203.1 459.2 C205.3 461.3 207.4 464.4 209.6 466.6 C211.8 468.8 214.3 470.7 216.2 472.3 C218.1 473.9 219.5 474.9 221.1 476.4 C222.7 477.9 224.1 479.7 226.0 481.3 C227.9 482.9 229.8 484.8 232.5 486.2 C235.2 487.6 239.6 488.8 242.3 489.5 C245.0 490.2 247.8 490.4 248.9 490.6" fill="none" stroke="#ffff00" stroke-width="1.90" stroke-linejoin="round" stroke-linecap="round"/>
<path d="M48.9 445.1 C49.4 445.0 50.9 444.4 52.0 444.3 C53.1 444.2 53.8 443.7 55.3 444.5 C56.8 445.3 58.9 447.0 60.7 449.1 C62.5 451.2 64.4 454.6 66.2 457.3 C68.0 460.0 69.6 462.9 71.6 465.5 C73.6 468.1 75.9 471.0 78.0 472.7 C80.1 474.4 82.1 475.0 84.4 475.5 C86.7 476.0 88.9 476.3 91.6 475.8 C94.3 475.3 97.7 474.1 100.7 472.7 C103.7 471.3 106.8 469.3 109.8 467.3 C112.8 465.3 115.9 463.3 118.9 460.9 C121.9 458.5 124.8 455.4 128.0 452.7 C131.2 450.0 135.0 446.8 138.2 444.5 C141.4 442.2 144.3 440.6 147.3 439.1 C150.3 437.6 153.4 436.5 156.4 435.5 C159.4 434.5 162.5 433.7 165.5 433.3 C168.5 432.9 171.5 433.2 174.5 433.3 C177.5 433.4 181.0 433.5 183.6 434.0 C186.2 434.5 187.8 435.5 190.0 436.3 C192.2 437.1 194.3 437.4 196.5 438.8 C198.7 440.2 200.9 442.3 203.1 444.5 C205.3 446.7 207.4 449.6 209.6 451.9 C211.8 454.2 214.3 456.5 216.2 458.4 C218.1 460.3 219.9 461.5 221.1 463.3 C222.3 465.1 222.2 467.1 223.5 469.0 C224.8 470.9 227.1 472.9 229.2 474.8 C231.2 476.7 233.6 478.7 235.8 480.5 C238.0 482.3 240.1 484.2 242.3 485.4 C244.5 486.6 247.8 487.4 248.9 487.8" fill="none" stroke="#0000ff" stroke-width="1.90" stroke-linejoin="round" stroke-linecap="round"/>
</g>
<line x1="170.6" y1="315.0" x2="193.7" y2="315.0" stroke="#000000" stroke-width="2.20"/>
<text x="198.40" y="318.40" font-size="9.50" text-anchor="start" fill="#1a1a1a">Hexane</text>
<line x1="170.6" y1="326.8" x2="193.7" y2="326.8" stroke="#ff0000" stroke-width="2.20"/>
<text x="198.40" y="330.20" font-size="9.50" text-anchor="start" fill="#1a1a1a">Benzene</text>
<line x1="170.6" y1="339.0" x2="193.7" y2="339.0" stroke="#14fa28" stroke-width="2.20"/>
<text x="198.40" y="342.40" font-size="9.50" text-anchor="start" fill="#1a1a1a">Chloroform</text>
<line x1="170.6" y1="350.8" x2="193.7" y2="350.8" stroke="#ffff00" stroke-width="2.20"/>
<text x="198.40" y="354.20" font-size="9.50" text-anchor="start" fill="#1a1a1a">Acetonitrile</text>
<line x1="170.6" y1="362.6" x2="193.7" y2="362.6" stroke="#0000ff" stroke-width="2.20"/>
<text x="198.40" y="366.00" font-size="9.50" text-anchor="start" fill="#1a1a1a">Ethanol</text>
<rect x="329.4" y="301.9" width="202.7" height="202.8" fill="none" stroke="#7c7c7c" stroke-width="1.30"/>
<line x1="355.8" y1="504.7" x2="355.8" y2="507.7" stroke="#7c7c7c" stroke-width="1.30"/>
<text x="356.14" y="526.40" font-size="12.00" text-anchor="middle" letter-spacing="0.60" fill="#000">400</text>
<line x1="399.9" y1="504.7" x2="399.9" y2="507.7" stroke="#7c7c7c" stroke-width="1.30"/>
<text x="400.20" y="526.40" font-size="12.00" text-anchor="middle" letter-spacing="0.60" fill="#000">450</text>
<line x1="444.0" y1="504.7" x2="444.0" y2="507.7" stroke="#7c7c7c" stroke-width="1.30"/>
<text x="444.27" y="526.40" font-size="12.00" text-anchor="middle" letter-spacing="0.60" fill="#000">500</text>
<line x1="488.0" y1="504.7" x2="488.0" y2="507.7" stroke="#7c7c7c" stroke-width="1.30"/>
<text x="488.33" y="526.40" font-size="12.00" text-anchor="middle" letter-spacing="0.60" fill="#000">550</text>
<line x1="532.1" y1="504.7" x2="532.1" y2="507.7" stroke="#7c7c7c" stroke-width="1.30"/>
<text x="532.40" y="526.40" font-size="12.00" text-anchor="middle" letter-spacing="0.60" fill="#000">600</text>
<line x1="326.4" y1="504.7" x2="329.4" y2="504.7" stroke="#7c7c7c" stroke-width="1.30"/>
<text x="320.90" y="509.00" font-size="12.00" text-anchor="end" letter-spacing="0.60" fill="#000">0.0</text>
<line x1="326.4" y1="470.9" x2="329.4" y2="470.9" stroke="#7c7c7c" stroke-width="1.30"/>
<text x="320.90" y="475.20" font-size="12.00" text-anchor="end" letter-spacing="0.60" fill="#000">0.2</text>
<line x1="326.4" y1="437.1" x2="329.4" y2="437.1" stroke="#7c7c7c" stroke-width="1.30"/>
<text x="320.90" y="441.40" font-size="12.00" text-anchor="end" letter-spacing="0.60" fill="#000">0.4</text>
<line x1="326.4" y1="403.3" x2="329.4" y2="403.3" stroke="#7c7c7c" stroke-width="1.30"/>
<text x="320.90" y="407.60" font-size="12.00" text-anchor="end" letter-spacing="0.60" fill="#000">0.6</text>
<line x1="326.4" y1="369.5" x2="329.4" y2="369.5" stroke="#7c7c7c" stroke-width="1.30"/>
<text x="320.90" y="373.80" font-size="12.00" text-anchor="end" letter-spacing="0.60" fill="#000">0.8</text>
<line x1="326.4" y1="335.7" x2="329.4" y2="335.7" stroke="#7c7c7c" stroke-width="1.30"/>
<text x="320.90" y="340.00" font-size="12.00" text-anchor="end" letter-spacing="0.60" fill="#000">1.0</text>
<line x1="326.4" y1="301.9" x2="329.4" y2="301.9" stroke="#7c7c7c" stroke-width="1.30"/>
<text x="320.90" y="306.20" font-size="12.00" text-anchor="end" letter-spacing="0.60" fill="#000">1.2</text>
<text x="336.90" y="293.75" font-size="21.00" text-anchor="start" font-weight="bold" fill="#000">E</text>
<text x="435.90" y="546.00" font-size="14.00" text-anchor="middle" font-weight="bold" fill="#000">Wavelength (nm)</text>
<text x="291.80" y="403.00" font-size="14.40" text-anchor="middle" font-weight="bold" transform="rotate(-90 291.8 403.0)" fill="#000">Normalized Fluorescence</text>
<g clip-path="url(#cE)">
<path d="M329.6 492.5 C330.0 490.4 331.0 485.0 331.7 479.8 C332.4 474.6 333.0 468.9 333.6 461.1 C334.2 453.3 334.9 442.5 335.5 433.1 C336.1 423.8 336.9 411.9 337.4 405.0 C337.9 398.1 338.1 396.2 338.5 392.0 C338.9 387.8 339.2 384.3 339.6 380.0 C340.0 375.7 340.5 370.5 341.0 366.4 C341.5 362.3 341.9 358.7 342.4 355.5 C342.8 352.3 343.2 350.0 343.7 347.3 C344.2 344.6 344.9 341.0 345.5 339.1 C346.1 337.2 346.5 336.7 347.0 336.0 C347.5 335.3 347.7 334.9 348.4 335.0 C349.1 335.1 350.2 336.4 351.0 336.8 C351.8 337.2 352.6 336.9 353.3 337.3 C354.0 337.7 354.4 338.4 355.1 339.0 C355.8 339.6 356.6 339.9 357.4 341.0 C358.1 342.1 358.9 343.8 359.6 345.5 C360.4 347.2 361.1 348.7 361.9 351.0 C362.7 353.3 363.5 356.4 364.2 359.1 C364.9 361.9 365.2 364.5 366.0 367.5 C366.8 370.5 368.0 373.8 368.9 377.3 C369.8 380.8 370.6 384.6 371.4 388.7 C372.2 392.8 372.9 396.6 373.8 401.8 C374.7 407.0 375.3 413.9 376.7 420.0 C378.1 426.1 380.4 433.1 382.3 438.7 C384.2 444.3 386.0 449.0 387.9 453.7 C389.8 458.4 391.6 462.8 393.5 466.8 C395.4 470.9 397.2 474.9 399.1 478.0 C401.0 481.1 402.8 483.2 404.7 485.5 C406.6 487.8 408.1 489.6 410.3 491.5 C412.5 493.4 415.6 495.5 418.0 496.9 C420.4 498.3 422.4 498.9 425.0 499.8 C427.6 500.7 429.5 501.4 433.5 502.0 C437.5 502.6 443.1 503.2 449.2 503.6 C455.3 504.0 456.2 504.2 470.0 504.3 C483.8 504.4 521.7 504.5 532.0 504.5" fill="none" stroke="#000000" stroke-width="1.90" stroke-linejoin="round" stroke-linecap="round"/>
<path d="M329.6 504.4 C330.0 504.4 330.1 504.5 331.7 504.2 C333.3 503.9 337.4 503.2 339.2 502.3 C341.0 501.4 341.6 500.2 342.5 499.0 C343.4 497.8 343.8 497.4 344.8 494.8 C345.8 492.2 347.5 488.3 348.6 483.6 C349.7 478.9 350.5 473.0 351.4 466.8 C352.3 460.6 353.4 452.8 354.2 446.2 C355.0 439.6 355.5 434.4 356.1 427.5 C356.7 420.6 357.3 412.0 357.9 405.0 C358.5 398.0 359.1 392.0 359.9 385.5 C360.6 379.0 361.4 371.8 362.4 365.8 C363.3 359.8 364.5 354.0 365.6 349.5 C366.7 345.0 367.8 341.2 368.9 338.8 C370.0 336.4 371.1 335.4 372.2 335.1 C373.3 334.8 374.4 335.6 375.5 337.2 C376.6 338.8 377.6 341.6 378.7 344.5 C379.8 347.4 380.9 350.8 382.0 354.4 C383.1 357.9 384.2 361.7 385.3 365.8 C386.4 369.9 387.5 374.9 388.5 378.9 C389.5 382.9 390.4 386.5 391.3 390.0 C392.2 393.5 392.7 395.3 393.8 400.0 C394.9 404.7 396.7 412.8 398.2 418.2 C399.7 423.6 401.2 427.8 402.7 432.7 C404.2 437.6 405.8 442.8 407.3 447.3 C408.8 451.9 410.1 456.1 411.8 460.0 C413.5 463.9 415.2 467.3 417.3 470.9 C419.4 474.5 422.1 478.6 424.5 481.8 C426.9 485.0 429.4 487.7 431.8 490.0 C434.2 492.3 436.2 493.9 439.1 495.5 C442.0 497.1 444.2 498.2 449.2 499.3 C454.2 500.4 462.3 501.5 468.9 502.2 C475.4 502.9 478.0 503.2 488.5 503.6 C499.0 504.0 524.8 504.4 532.0 504.5" fill="none" stroke="#ff0000" stroke-width="1.90" stroke-linejoin="round" stroke-linecap="round"/>
<path d="M329.6 504.5 C332.1 504.4 341.6 504.4 344.8 504.2 C348.0 503.9 347.8 503.5 349.0 503.0 C350.2 502.5 351.2 502.3 352.3 501.4 C353.4 500.5 354.7 499.2 355.8 497.5 C356.9 495.8 357.6 495.0 358.9 491.1 C360.2 487.2 362.2 481.1 363.6 474.2 C365.0 467.3 366.2 458.3 367.3 449.9 C368.4 441.5 369.4 430.3 370.1 423.7 C370.8 417.1 370.8 415.8 371.5 410.0 C372.2 404.2 373.3 395.5 374.4 388.7 C375.5 381.9 376.8 375.1 377.9 369.1 C379.0 363.1 380.1 357.3 381.1 352.7 C382.2 348.1 383.2 344.0 384.2 341.3 C385.2 338.6 386.4 337.4 387.3 336.4 C388.2 335.4 388.9 335.2 389.8 335.5 C390.7 335.8 391.7 336.4 392.8 338.0 C393.9 339.6 395.1 342.2 396.3 345.1 C397.5 348.0 398.8 351.5 400.1 355.3 C401.4 359.1 402.6 363.8 403.9 368.0 C405.2 372.2 406.5 376.9 407.7 380.7 C408.9 384.5 409.9 387.7 410.9 390.9 C411.9 394.1 412.8 396.6 413.5 399.8 C414.2 403.0 414.7 406.6 415.4 410.0 C416.1 413.4 416.9 417.0 417.7 420.5 C418.5 424.0 418.9 426.7 420.0 430.9 C421.1 435.1 423.0 440.9 424.5 445.5 C426.0 450.1 427.4 454.3 429.1 458.2 C430.8 462.1 432.7 466.1 434.5 469.1 C436.3 472.1 437.6 473.3 440.0 476.4 C442.4 479.5 445.7 484.3 449.2 487.5 C452.7 490.7 456.1 493.7 461.0 495.8 C465.9 497.9 472.5 499.1 478.7 500.1 C484.9 501.1 489.3 501.5 498.3 502.0 C507.3 502.5 526.9 502.8 532.6 503.0" fill="none" stroke="#14fa28" stroke-width="1.90" stroke-linejoin="round" stroke-linecap="round"/>
<path d="M329.6 504.5 C333.7 504.4 349.5 504.2 354.2 503.8 C358.9 503.4 356.8 502.7 358.0 502.0 C359.2 501.3 360.1 501.6 361.7 499.5 C363.2 497.4 365.6 493.7 367.3 489.2 C369.0 484.7 370.4 478.6 372.0 472.4 C373.6 466.2 375.3 459.3 376.7 451.8 C378.1 444.3 379.3 435.3 380.4 427.5 C381.5 419.7 382.4 410.9 383.2 405.0 C384.0 399.1 384.4 396.9 385.3 392.0 C386.2 387.1 387.3 381.1 388.5 375.6 C389.7 370.2 391.2 364.5 392.6 359.3 C394.0 354.1 395.5 348.2 396.7 344.5 C397.9 340.8 398.9 338.7 400.0 337.2 C401.1 335.7 402.4 335.8 403.3 335.5 C404.2 335.2 404.9 335.1 405.7 335.5 C406.5 335.9 407.2 336.2 408.2 338.0 C409.2 339.8 410.4 343.2 411.5 346.2 C412.6 349.2 413.8 353.1 414.7 356.0 C415.6 358.9 416.1 360.5 417.0 363.5 C417.9 366.5 418.8 370.1 419.8 374.0 C420.8 377.9 422.0 383.0 423.1 387.1 C424.2 391.2 425.3 394.8 426.4 398.5 C427.5 402.2 428.7 406.3 429.6 409.2 C430.5 412.1 430.3 412.0 431.6 415.7 C432.9 419.4 435.9 426.5 437.5 431.4 C439.1 436.3 440.1 440.2 441.4 445.1 C442.7 450.0 443.7 455.6 445.3 460.8 C446.9 466.0 448.9 472.6 451.2 476.5 C453.5 480.4 456.2 482.1 459.1 484.4 C462.1 486.7 465.0 488.3 468.9 490.3 C472.8 492.3 477.7 494.6 482.6 496.2 C487.5 497.8 492.4 499.1 498.3 500.1 C504.2 501.1 512.2 501.6 517.9 502.0 C523.6 502.4 530.1 502.5 532.6 502.6" fill="none" stroke="#ffff00" stroke-width="1.90" stroke-linejoin="round" stroke-linecap="round"/>
<path d="M329.6 504.6 C334.0 504.5 350.1 504.4 356.1 504.2 C362.1 504.0 362.3 503.8 365.4 503.2 C368.5 502.6 372.4 501.5 374.8 500.4 C377.2 499.3 377.9 498.1 379.5 496.5 C381.1 494.9 382.1 494.2 384.1 491.1 C386.1 488.0 389.4 482.7 391.6 478.0 C393.8 473.3 395.3 468.3 397.2 463.0 C399.1 457.7 401.2 451.8 402.8 446.2 C404.4 440.6 405.5 435.2 406.6 429.3 C407.7 423.4 408.6 416.6 409.5 411.0 C410.4 405.4 411.1 400.3 412.0 395.5 C412.9 390.7 413.9 386.1 414.7 382.2 C415.4 378.3 415.6 376.2 416.5 372.4 C417.4 368.6 418.7 363.1 419.8 359.3 C420.9 355.5 422.0 352.4 423.1 349.5 C424.2 346.6 425.3 344.2 426.4 342.1 C427.5 340.1 428.5 338.3 429.6 337.2 C430.7 336.1 431.7 335.7 432.9 335.5 C434.1 335.3 435.9 335.3 437.0 335.9 C438.1 336.4 438.8 337.1 439.5 338.8 C440.2 340.5 440.6 343.3 441.1 346.2 C441.6 349.1 442.0 352.2 442.7 356.0 C443.4 359.8 444.4 364.5 445.2 369.1 C446.0 373.7 446.8 379.2 447.6 383.8 C448.4 388.4 449.3 392.8 450.1 396.9 C450.9 401.0 451.8 405.5 452.5 408.5 C453.2 411.5 453.7 413.1 454.5 415.0 C455.3 416.9 455.7 417.2 457.1 419.6 C458.5 422.0 461.0 426.1 463.0 429.4 C465.0 432.7 466.9 435.6 468.9 439.2 C470.9 442.8 472.5 446.7 474.8 451.0 C477.1 455.3 480.0 460.6 482.6 464.8 C485.2 469.1 487.6 472.9 490.5 476.5 C493.4 480.1 496.7 483.4 500.3 486.3 C503.9 489.2 508.1 492.2 512.0 494.2 C515.9 496.2 520.4 497.0 523.8 498.1 C527.2 499.2 531.1 500.6 532.6 501.1" fill="none" stroke="#0000ff" stroke-width="1.90" stroke-linejoin="round" stroke-linecap="round"/>
</g>
<circle cx="688.8" cy="403.2" r="20.2" fill="none" stroke="#d8d8d8" stroke-width="1"/>
<circle cx="688.8" cy="403.2" r="40.5" fill="none" stroke="#d8d8d8" stroke-width="1"/>
<circle cx="688.8" cy="403.2" r="60.7" fill="none" stroke="#d8d8d8" stroke-width="1"/>
<circle cx="688.8" cy="403.2" r="81.0" fill="none" stroke="#d8d8d8" stroke-width="1"/>
<line x1="688.8" y1="403.2" x2="790.0" y2="403.2" stroke="#d8d8d8" stroke-width="1"/>
<line x1="688.8" y1="403.2" x2="776.4" y2="352.6" stroke="#d8d8d8" stroke-width="1"/>
<line x1="688.8" y1="403.2" x2="739.4" y2="315.6" stroke="#d8d8d8" stroke-width="1"/>
<line x1="688.8" y1="403.2" x2="688.8" y2="302.0" stroke="#d8d8d8" stroke-width="1"/>
<line x1="688.8" y1="403.2" x2="638.2" y2="315.6" stroke="#d8d8d8" stroke-width="1"/>
<line x1="688.8" y1="403.2" x2="601.2" y2="352.6" stroke="#d8d8d8" stroke-width="1"/>
<line x1="688.8" y1="403.2" x2="587.6" y2="403.2" stroke="#d8d8d8" stroke-width="1"/>
<line x1="688.8" y1="403.2" x2="601.2" y2="453.8" stroke="#d8d8d8" stroke-width="1"/>
<line x1="688.8" y1="403.2" x2="638.2" y2="490.8" stroke="#d8d8d8" stroke-width="1"/>
<line x1="688.8" y1="403.2" x2="688.8" y2="504.4" stroke="#d8d8d8" stroke-width="1"/>
<line x1="688.8" y1="403.2" x2="739.4" y2="490.8" stroke="#d8d8d8" stroke-width="1"/>
<line x1="688.8" y1="403.2" x2="776.4" y2="453.8" stroke="#d8d8d8" stroke-width="1"/>
<circle cx="688.8" cy="403.2" r="101.2" fill="none" stroke="#505050" stroke-width="1.0"/>
<line x1="788.5" y1="403.2" x2="791.5" y2="403.2" stroke="#505050" stroke-width="1"/>
<line x1="775.1" y1="353.4" x2="777.7" y2="351.9" stroke="#505050" stroke-width="1"/>
<line x1="738.6" y1="316.9" x2="740.1" y2="314.3" stroke="#505050" stroke-width="1"/>
<line x1="688.8" y1="303.5" x2="688.8" y2="300.5" stroke="#505050" stroke-width="1"/>
<line x1="638.9" y1="316.9" x2="637.4" y2="314.3" stroke="#505050" stroke-width="1"/>
<line x1="602.5" y1="353.4" x2="599.9" y2="351.9" stroke="#505050" stroke-width="1"/>
<line x1="589.1" y1="403.2" x2="586.1" y2="403.2" stroke="#505050" stroke-width="1"/>
<line x1="602.5" y1="453.1" x2="599.9" y2="454.6" stroke="#505050" stroke-width="1"/>
<line x1="638.9" y1="489.5" x2="637.4" y2="492.1" stroke="#505050" stroke-width="1"/>
<line x1="688.8" y1="502.9" x2="688.8" y2="505.9" stroke="#505050" stroke-width="1"/>
<line x1="738.6" y1="489.5" x2="740.1" y2="492.1" stroke="#505050" stroke-width="1"/>
<line x1="775.1" y1="453.1" x2="777.7" y2="454.6" stroke="#505050" stroke-width="1"/>
<rect x="587.7" y="301.8" width="202.6" height="202.2" fill="none" stroke="#767676" stroke-width="1.3"/>
<line x1="585.7" y1="403.2" x2="587.7" y2="403.2" stroke="#767676" stroke-width="1.00"/>
<line x1="688.8" y1="504.0" x2="688.8" y2="506.0" stroke="#767676" stroke-width="1.00"/>
<circle cx="734.6" cy="332.6" r="3.9" fill="#000"/>
<polygon points="680.9,318.3 689.1,318.3 685.0,325.3" fill="#ff0000"/>
<rect x="644.3" y="330.9" width="7.4" height="7.4" fill="#14fa28"/>
<polygon points="628.0,351.0 632.6,355.6 628.0,360.2 623.4,355.6" fill="#ffff00"/>
<polygon points="616.2,419.9 624.4,419.9 620.3,412.9" fill="#0000ff"/>
<circle cx="705.8" cy="416.4" r="3.9" fill="#000"/>
<text x="722.00" y="419.80" font-size="9.50" text-anchor="start" fill="#1a1a1a">Hexane</text>
<polygon points="701.7,425.3 709.9,425.3 705.8,432.3" fill="#ff0000"/>
<text x="722.00" y="432.20" font-size="9.50" text-anchor="start" fill="#1a1a1a">Benzene</text>
<rect x="702.1" y="436.8" width="7.4" height="7.4" fill="#14fa28"/>
<text x="722.00" y="443.90" font-size="9.50" text-anchor="start" fill="#1a1a1a">Chloroform</text>
<polygon points="705.8,448.3 710.4,452.9 705.8,457.5 701.2,452.9" fill="#ffff00"/>
<text x="722.00" y="456.30" font-size="9.50" text-anchor="start" fill="#1a1a1a">Acetonitrile</text>
<polygon points="701.7,468.1 709.9,468.1 705.8,461.1" fill="#0000ff"/>
<text x="722.00" y="468.00" font-size="9.50" text-anchor="start" fill="#1a1a1a">Ethanol</text>
<text x="588.00" y="293.40" font-size="21.00" text-anchor="start" font-weight="bold" fill="#000">F</text>
<text x="549.40" y="349.50" font-size="14.00" text-anchor="start" font-weight="bold" fill="#000">S</text>
<text x="736.60" y="533.90" font-size="14.00" text-anchor="start" font-weight="bold" fill="#000">G</text>
<text x="581.00" y="307.80" font-size="12.00" text-anchor="end" letter-spacing="0.60" fill="#000">1.0</text>
<text x="581.00" y="407.20" font-size="12.00" text-anchor="end" letter-spacing="0.60" fill="#000">0.0</text>
<text x="581.00" y="509.90" font-size="12.00" text-anchor="end" letter-spacing="0.60" fill="#000">-1.0</text>
<text x="585.80" y="520.30" font-size="12.00" text-anchor="middle" letter-spacing="0.60" fill="#000">-1.0</text>
<text x="690.10" y="520.30" font-size="12.00" text-anchor="middle" letter-spacing="0.60" fill="#000">0.0</text>
<text x="791.30" y="520.30" font-size="12.00" text-anchor="middle" letter-spacing="0.60" fill="#000">1.0</text>
</svg>
</body></html>
